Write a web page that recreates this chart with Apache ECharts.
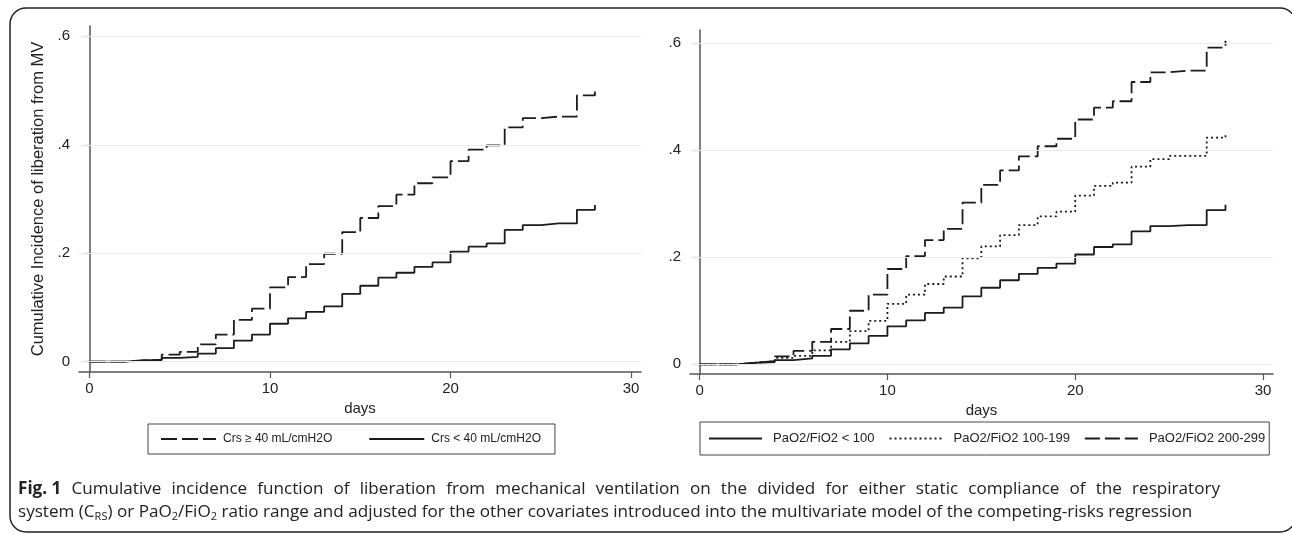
<!DOCTYPE html>
<html>
<head>
<meta charset="utf-8">
<script src="https://cdn.jsdelivr.net/npm/echarts@6/dist/echarts.min.js"></script>
<style>
  html, body { margin: 0; padding: 0; background: #fff; }
  #chart { width: 1292px; height: 534px; }
</style>
</head>
<body>
<div id="chart"></div>
<script>
// days 0..28, value = level held from that day until the next one
const days = Array.from({ length: 29 }, (_, i) => i);

const crsHigh = [0, 0, 0.002, 0.004, 0.013, 0.018, 0.032, 0.050, 0.077, 0.098, 0.137, 0.156, 0.180, 0.199, 0.239,
  0.265, 0.287, 0.308, 0.329, 0.340, 0.370, 0.391, 0.399, 0.432, 0.449, 0.452, 0.452, 0.491, 0.503];
const crsLow = [0, 0, 0.003, 0.003, 0.007, 0.009, 0.015, 0.025, 0.039, 0.050, 0.070, 0.080, 0.092, 0.102, 0.125,
  0.140, 0.155, 0.164, 0.175, 0.183, 0.203, 0.212, 0.218, 0.243, 0.252, 0.255, 0.255, 0.280, 0.289];

const pfLow = [0, 0, 0.003, 0.004, 0.008, 0.011, 0.016, 0.028, 0.039, 0.053, 0.071, 0.082, 0.096, 0.106, 0.127,
  0.143, 0.157, 0.169, 0.180, 0.188, 0.205, 0.219, 0.224, 0.248, 0.258, 0.260, 0.260, 0.288, 0.298];
const pfMid = [0, 0, 0.003, 0.006, 0.012, 0.016, 0.026, 0.042, 0.062, 0.081, 0.113, 0.130, 0.150, 0.164, 0.198,
  0.220, 0.241, 0.260, 0.276, 0.285, 0.315, 0.333, 0.339, 0.369, 0.383, 0.389, 0.389, 0.423, 0.432];
const pfHigh = [0, 0, 0.003, 0.006, 0.015, 0.025, 0.042, 0.066, 0.100, 0.130, 0.178, 0.202, 0.232, 0.253, 0.302,
  0.335, 0.362, 0.388, 0.407, 0.421, 0.457, 0.479, 0.491, 0.527, 0.545, 0.548, 0.548, 0.591, 0.604];

const leftNames = ["Crs ≥ 40 mL/cmH2O", "Crs < 40 mL/cmH2O"];
const rightNames = ["PaO2/FiO2 < 100", "PaO2/FiO2 100-199", "PaO2/FiO2 200-299"];

const xTicks = [0, 10, 20, 30];
const yTicks = [0, 0.2, 0.4, 0.6];
const yTitle = "Cumulative Incidence of liberation from MV";
const xTitle = "days";

const captionLead = "Fig. 1";
const captionLine1 = "Cumulative incidence function of liberation from mechanical ventilation on the divided for either static compliance of the respiratory";
const captionLine2 = "system (C{sub|RS}) or PaO{sub|2}/FiO{sub|2} ratio range and adjusted for the other covariates introduced into the multivariate model of the competing-risks regression";

const ink = "#1c1c1c";
const axisGray = "#555";
const font = "Liberation Sans";
const captionFont = "Open Sans";
const captionSize = 17.1;

const chart = echarts.init(document.getElementById("chart"), null, { renderer: "canvas" });

function pairs(values) {
  return days.map((d, i) => [d, values[i]]);
}

function yLabel(v) {
  return v === 0 ? "0" : String(v).replace(/^0/, "");
}

// the journal justifies the first caption line, so widen its spaces to fill the line
function justifiedLine(lead, text, width) {
  const ctx = document.createElement("canvas").getContext("2d");
  const words = text.split(" ");
  ctx.font = `bold ${captionSize}px "${captionFont}"`;
  let used = ctx.measureText(lead).width;
  ctx.font = `${captionSize}px "${captionFont}"`;
  words.forEach((w) => { used += ctx.measureText(w).width; });
  const gap = (width - used) / words.length;
  return {
    text: `{b|${lead}}{sp| }` + words.join("{sp| }"),
    gap,
  };
}

function xAxis(gridIndex, min, max) {
  return {
    type: "value", gridIndex, min, max,
    name: xTitle, nameLocation: "middle", nameGap: 28,
    nameTextStyle: { fontSize: 15, color: "#222", fontFamily: font },
    axisLine: { onZero: false, lineStyle: { color: axisGray, width: 1.5 } },
    axisTick: { customValues: xTicks, length: 6, lineStyle: { color: axisGray, width: 1.2 } },
    axisLabel: { customValues: xTicks, fontSize: 15, color: "#222", margin: 9, fontFamily: font },
    splitLine: { show: false },
  };
}

function yAxis(gridIndex, min, max, withName) {
  return {
    type: "value", gridIndex, min, max,
    name: withName ? yTitle : "", nameLocation: "middle", nameGap: 32, nameRotate: 90,
    nameTextStyle: { fontSize: 16.5, color: "#222", fontFamily: font },
    axisLine: { show: true, lineStyle: { color: axisGray, width: 1.5 } },
    axisTick: { show: true, customValues: yTicks, length: 6, lineStyle: { color: axisGray, width: 1.2 } },
    axisLabel: { customValues: yTicks, formatter: yLabel, fontSize: 15, color: "#222", margin: 9, fontFamily: font },
    splitLine: { show: false },
  };
}

function gridLines() {
  return {
    silent: true, symbol: "none", animation: false,
    label: { show: false },
    lineStyle: { color: "#ebebeb", type: "solid", width: 1.2 },
    data: yTicks.map((v) => ({ yAxis: v })),
  };
}

function stepSeries(name, values, axisIndex, dash, withGrid) {
  return {
    name, type: "line", step: "end",
    xAxisIndex: axisIndex, yAxisIndex: axisIndex,
    data: pairs(values),
    symbol: "none", z: 3,
    color: ink,
    lineStyle: { color: ink, width: 1.8, type: dash },
    markLine: withGrid ? gridLines() : undefined,
  };
}

function legend(names, box) {
  return {
    data: names, left: box.left, top: box.top, orient: "horizontal",
    itemWidth: box.itemWidth, itemHeight: 10, itemGap: box.gap,
    borderColor: "#444", borderWidth: 1, padding: box.padding,
    itemStyle: { opacity: 0 },
    textStyle: { fontSize: box.fontSize, color: "#222", fontFamily: font, padding: [0, 0, 0, box.textPad] },
    selectedMode: false,
  };
}

const line1 = justifiedLine(captionLead, captionLine1, 1202);

chart.setOption({
  animation: false,
  textStyle: { fontFamily: font },
  grid: [
    { left: 79, right: 651, top: 26, bottom: 162 },
    { left: 690, right: 19, top: 30, bottom: 160 },
  ],
  xAxis: [xAxis(0, -0.58, 30.55), xAxis(1, -0.51, 30.53)],
  yAxis: [yAxis(0, -0.019, 0.619, true), yAxis(1, -0.018, 0.624, false)],
  legend: [
    legend(leftNames, { left: 148, top: 424, itemWidth: 55, gap: 36, padding: [9, 14, 9, 12], fontSize: 12, textPad: 2 }),
    legend(rightNames, { left: 700, top: 422, itemWidth: 53, gap: 14, padding: [10, 4, 10, 8], fontSize: 13, textPad: 6 }),
  ],
  series: [
    stepSeries(leftNames[0], crsHigh, 0, [16, 5], true),
    stepSeries(leftNames[1], crsLow, 0, "solid", false),
    stepSeries(rightNames[0], pfLow, 1, "solid", true),
    stepSeries(rightNames[1], pfMid, 1, [2, 3], false),
    stepSeries(rightNames[2], pfHigh, 1, [15, 5], false),
  ],
  graphic: [
    {
      type: "rect", z: -1, silent: true,
      shape: { x: 10, y: 8, width: 1286, height: 524, r: 16 },
      style: { fill: "none", stroke: "#222", lineWidth: 1.5 },
    },
    {
      type: "text", left: 18, top: 481,
      style: {
        text: line1.text, fontSize: captionSize, fontFamily: captionFont, fill: "#222",
        rich: {
          b: { fontWeight: "bold", fontSize: captionSize, fontFamily: captionFont, fill: "#222" },
          sp: { width: line1.gap, fontSize: captionSize, fontFamily: captionFont },
        },
      },
    },
    {
      type: "text", left: 18, top: 504,
      style: {
        text: captionLine2, fontSize: captionSize, fontFamily: captionFont, fill: "#222",
        rich: { sub: { fontSize: 11, fontFamily: captionFont, fill: "#222", padding: [8, 0, 0, 0] } },
      },
    },
  ],
});
</script>
</body>
</html>
